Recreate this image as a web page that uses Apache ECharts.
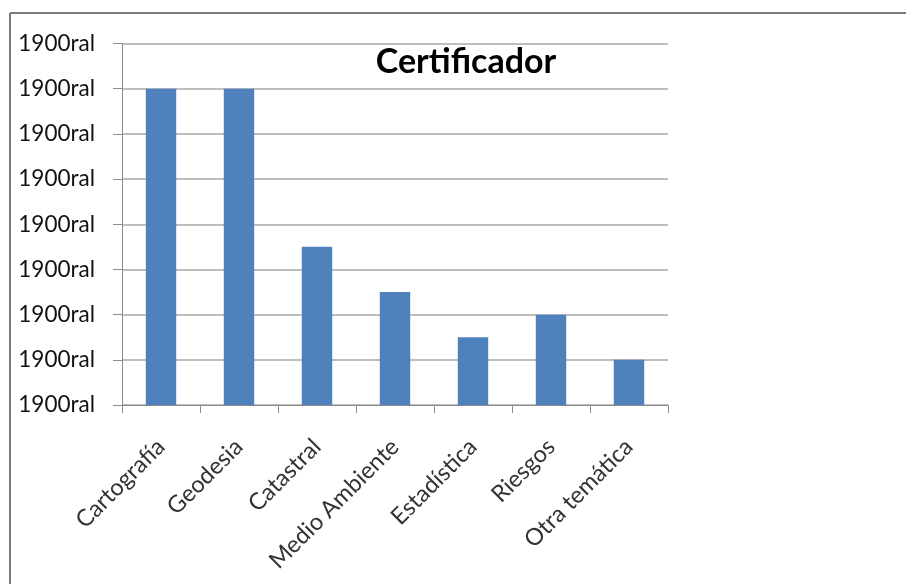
<!DOCTYPE html>
<html><head><meta charset="utf-8">
<script src="https://cdn.jsdelivr.net/npm/echarts@6/dist/echarts.min.js"></script>
<style>html,body{margin:0;padding:0;background:#fff}#c{width:906px;height:584px}</style>
</head><body><div id="c"></div>
<script>
var categories = ['Cartografía','Geodesia','Catastral','Medio Ambiente','Estadística','Riesgos','Otra temática'];
var values = [7, 7, 3.5, 2.5, 1.5, 2, 1];
var yTickLabel = '1900ral';
var titleText = 'Certificador';

var chart = echarts.init(document.getElementById('c'), null, {renderer:'canvas'});
var font = 'Lato, "Open Sans", sans-serif';
chart.setOption({
  animation:false,
  backgroundColor:'#ffffff',
  title:{text:titleText, left:461, top:40, textAlign:'center',
    textStyle:{fontFamily:font, fontWeight:'bold', fontSize:34, color:'#000'}},
  grid:{left:122, right:238, top:43.5, bottom:179, containLabel:false},
  xAxis:{type:'category', data:categories, boundaryGap:true,
    axisLine:{show:true, lineStyle:{color:'#8c8c8c', width:1}},
    axisTick:{show:true, alignWithLabel:false, length:8, lineStyle:{color:'#8c8c8c'}},
    axisLabel:{rotate:45, margin:38, interval:0, fontFamily:font, fontSize:23.5, color:'#333'}},
  yAxis:{type:'value', min:0, max:8, interval:1,
    axisLine:{show:true, lineStyle:{color:'#8c8c8c', width:1}},
    axisTick:{show:true, length:9, lineStyle:{color:'#8c8c8c'}},
    splitLine:{show:true, lineStyle:{color:'#a8a8a8', width:1.5}},
    axisLabel:{margin:27, formatter:function(){return yTickLabel;}, fontFamily:font, fontSize:22.5, color:'#111'}},
  series:[{type:'bar', data:values, barWidth:'39%', itemStyle:{color:'#4f81bd'}}],
  graphic:[
    {type:'line', shape:{x1:10, y1:13, x2:906, y2:13}, style:{stroke:'#7a7a7a', lineWidth:2}},
    {type:'line', shape:{x1:10, y1:13, x2:10, y2:584}, style:{stroke:'#7a7a7a', lineWidth:2}}
  ]
});
</script></body></html>
